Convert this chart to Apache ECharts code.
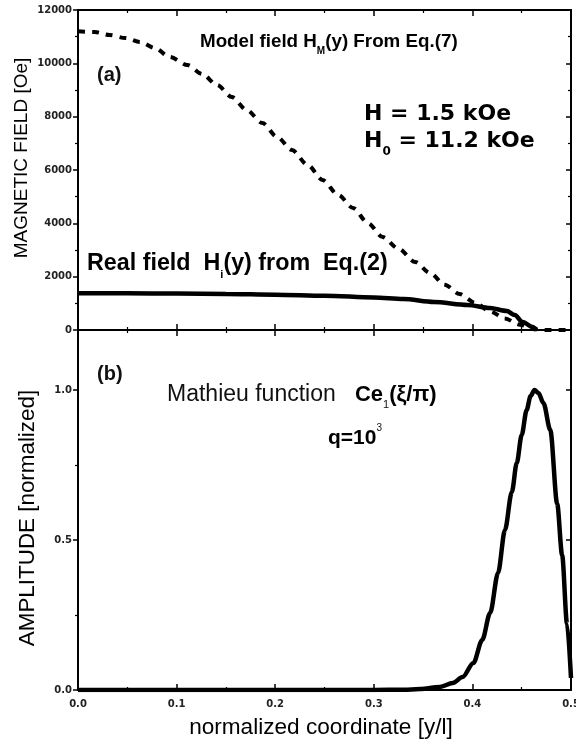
<!DOCTYPE html>
<html>
<head>
<meta charset="utf-8">
<script src="https://cdn.jsdelivr.net/npm/echarts@6/dist/echarts.min.js"></script>
<style>
html,body{margin:0;padding:0;background:#fff;overflow:hidden;}
#main{width:576px;height:746px;}
</style>
</head>
<body>
<div id="main"></div>
<script>
// ---- data ----
var xModel = [0.000,0.017,0.032,0.048,0.063,0.078,0.093,0.111,0.126,0.141,0.156,0.171,0.187,0.202,0.217,0.233,0.248,0.264,0.279,0.294,0.309,0.325,0.342,0.357,0.372,0.387,0.403,0.418,0.433,0.448,0.463,0.475,0.490,0.500];
var hModel = [11200,11175,11062,10950,10800,10575,10237,9937,9600,9187,8737,8250,7762,7237,6750,6187,5625,5062,4575,4012,3487,3050,2550,2137,1700,1350,1012,700,430,200,30,0,0,0];

var xReal = [0.00,0.05,0.10,0.15,0.20,0.25,0.30,0.33,0.361,0.395,0.418,0.435,0.443,0.451,0.461,0.465];
var hReal = [1380,1375,1365,1350,1325,1285,1220,1160,1050,940,825,710,560,300,110,0];

var xMathieu = [0.000,0.100,0.200,0.300,0.330,0.347,0.367,0.380,0.390,0.401,0.410,0.418,0.426,0.433,0.440,0.445,0.450,0.455,0.459,0.463,0.467,0.472,0.479,0.486,0.491,0.496,0.500];
var ampMathieu = [0,0,0,0,0.001,0.003,0.010,0.023,0.043,0.090,0.167,0.257,0.390,0.533,0.660,0.757,0.850,0.933,0.980,1.000,0.990,0.957,0.867,0.620,0.450,0.220,0.040];

var xTicks = [0,0.1,0.2,0.3,0.4,0.5];
var fieldTicks = [0,2000,4000,6000,8000,10000,12000];
var ampTicks = [0,0.5,1.0];
var ampMinor = [0.25,0.75];

function zip(a,b){ return a.map(function(v,i){ return [v,b[i]]; }); }

var chart = echarts.init(document.getElementById('main'), null, {renderer:'canvas'});
var lineC = '#000';
var tickFont = {fontFamily:'DejaVu Sans', fontWeight:'bold', fontSize:10, color:'#222'};
function xAx(grid, pos, labels){
  return {
    type:'value', gridIndex:grid, position:pos, min:0, max:0.5, interval:0.1,
    axisLine:{show:true, onZero:false, lineStyle:{color:lineC, width:2}},
    axisTick:{show:true, inside:true, length:6, customValues:xTicks, lineStyle:{color:lineC, width:1.5}},
    minorTick:{show:true, splitNumber:2, length:3, lineStyle:{color:lineC, width:1.2}},
    splitLine:{show:false}, minorSplitLine:{show:false},
    axisLabel: labels ? Object.assign({show:true, margin:9, customValues:xTicks, formatter:function(v){return v.toFixed(1);}}, tickFont) : {show:false}
  };
}
var option = {
  animation:false,
  backgroundColor:'#fff',
  grid:[
    {left:78, top:10, width:493, height:320, outerBoundsMode:'none', containLabel:false},
    {left:78, top:330, width:493, height:360, outerBoundsMode:'none', containLabel:false}
  ],
  xAxis:[ xAx(0,'bottom',false), xAx(0,'top',false), xAx(1,'bottom',true), xAx(1,'top',false) ],
  yAxis:[
    {type:'value', gridIndex:0, position:'left', min:0, max:12000, interval:2000,
     axisLine:{show:true, onZero:false, lineStyle:{color:lineC, width:2}},
     axisTick:{show:true, inside:false, length:5, customValues:fieldTicks, lineStyle:{color:lineC, width:1.5}},
     minorTick:{show:true, splitNumber:2, length:3, lineStyle:{color:lineC, width:1.2}},
     splitLine:{show:false},
     axisLabel:Object.assign({show:true, margin:6, customValues:fieldTicks, formatter:function(v){return String(v);}}, tickFont)},
    {type:'value', gridIndex:0, position:'right', min:0, max:12000, interval:2000,
     axisLine:{show:true, onZero:false, lineStyle:{color:lineC, width:2}},
     axisTick:{show:true, inside:true, length:5, lineStyle:{color:lineC, width:1.5}},
     minorTick:{show:true, splitNumber:2, length:3, lineStyle:{color:lineC, width:1.2}},
     splitLine:{show:false}, axisLabel:{show:false}},
    {type:'value', gridIndex:1, position:'left', min:0, max:1.2,
     axisLine:{show:true, onZero:false, lineStyle:{color:lineC, width:2}},
     axisTick:{show:true, inside:false, length:5, customValues:ampTicks, lineStyle:{color:lineC, width:1.5}},
     splitLine:{show:false},
     axisLabel:Object.assign({show:true, margin:6, customValues:ampTicks, formatter:function(v){return v.toFixed(1);}}, tickFont)},
    {type:'value', gridIndex:1, position:'left', min:0, max:1.2,
     axisLine:{show:false},
     axisTick:{show:true, inside:false, length:3, customValues:ampMinor, lineStyle:{color:lineC, width:1.2}},
     splitLine:{show:false}, axisLabel:{show:false}},
    {type:'value', gridIndex:1, position:'right', min:0, max:1.2,
     axisLine:{show:true, onZero:false, lineStyle:{color:lineC, width:2}},
     axisTick:{show:true, inside:true, length:5, customValues:ampTicks, lineStyle:{color:lineC, width:1.5}},
     splitLine:{show:false}, axisLabel:{show:false}}
  ],
  series:[
    {type:'line', xAxisIndex:0, yAxisIndex:0, data:zip(xModel,hModel), showSymbol:false, smooth:0.3, smoothMonotone:'x',
     lineStyle:{color:'#000', width:4, type:[7,7]}, z:3},
    {type:'line', xAxisIndex:0, yAxisIndex:0, data:zip(xReal,hReal), showSymbol:false, smooth:0.3, smoothMonotone:'x',
     lineStyle:{color:'#000', width:4.5}, z:4},
    {type:'line', xAxisIndex:2, yAxisIndex:2, data:zip(xMathieu,ampMathieu), showSymbol:false, smooth:0.3, smoothMonotone:'x',
     lineStyle:{color:'#000', width:4.5}, z:4}
  ],
  graphic:[
    {type:'text', x:22, y:158, rotation:Math.PI/2,
     style:{text:'MAGNETIC FIELD [Oe]', fontFamily:'Liberation Sans', fontSize:19, fill:'#000', align:'center', verticalAlign:'middle'}},
    {type:'text', x:28, y:518, rotation:Math.PI/2,
     style:{text:'AMPLITUDE [normalized]', fontFamily:'Liberation Sans', fontSize:22.4, fill:'#000', align:'center', verticalAlign:'middle'}},
    {type:'text', x:321, y:728,
     style:{text:'normalized coordinate [y/l]', fontFamily:'Liberation Sans', fontSize:22.6, fill:'#000', align:'center', verticalAlign:'middle'}},
    {type:'text', x:97, y:75,
     style:{text:'(a)', fontFamily:'Liberation Sans', fontWeight:'bold', fontSize:20, fill:'#111', align:'left', verticalAlign:'middle'}},
    {type:'text', x:97, y:374,
     style:{text:'(b)', fontFamily:'Liberation Sans', fontWeight:'bold', fontSize:20, fill:'#111', align:'left', verticalAlign:'middle'}},
    {type:'text', x:200, y:42,
     style:{text:'{m|Model field H}{s|M}{m|(y) From Eq.(7)}', align:'left', verticalAlign:'middle',
       rich:{m:{fontFamily:'Liberation Sans', fontWeight:'bold', fontSize:18.8, fill:'#000', lineHeight:28},
             s:{fontFamily:'Liberation Sans', fontWeight:'bold', fontSize:10, fill:'#000', lineHeight:28, verticalAlign:'bottom'}}}},
    {type:'text', x:364, y:114,
     style:{text:'{m|H = 1.5 kOe}', align:'left', verticalAlign:'middle',
       rich:{m:{fontFamily:'DejaVu Sans', fontWeight:'bold', fontSize:22, fill:'#000', lineHeight:30}}}},
    {type:'text', x:364, y:141,
     style:{text:'{m|H}{s|0}{m| = 11.2 kOe}', align:'left', verticalAlign:'middle',
       rich:{m:{fontFamily:'DejaVu Sans', fontWeight:'bold', fontSize:22, fill:'#000', lineHeight:34},
             s:{fontFamily:'DejaVu Sans', fontWeight:'bold', fontSize:12, fill:'#000', lineHeight:34, verticalAlign:'bottom'}}}},
    {type:'text', x:87, y:264,
     style:{text:'{m|Real field  H}{s|i}{m|(y) from  Eq.(2)}', align:'left', verticalAlign:'middle',
       rich:{m:{fontFamily:'Liberation Sans', fontWeight:'bold', fontSize:23.3, fill:'#000', lineHeight:32},
             s:{fontFamily:'Liberation Sans', fontWeight:'bold', fontSize:11, fill:'#000', lineHeight:32, verticalAlign:'bottom'}}}},
    {type:'text', x:167, y:395,
     style:{text:'{r|Mathieu function   }{m|Ce}{s|1}{m|(ξ/π)}', align:'left', verticalAlign:'middle',
       rich:{r:{fontFamily:'Liberation Sans', fontSize:23, fill:'#111', lineHeight:30},
             m:{fontFamily:'Liberation Sans', fontWeight:'bold', fontSize:22, fill:'#000', lineHeight:30},
             s:{fontFamily:'Liberation Sans', fontSize:11, fill:'#111', lineHeight:30, verticalAlign:'bottom'}}}},
    {type:'text', x:328, y:438,
     style:{text:'{m|q=10}{s|3}', align:'left', verticalAlign:'middle',
       rich:{m:{fontFamily:'Liberation Sans', fontWeight:'bold', fontSize:21, fill:'#000', lineHeight:30},
             s:{fontFamily:'Liberation Sans', fontSize:10, fill:'#111', lineHeight:30, verticalAlign:'top'}}}}
  ]
};
chart.setOption(option);
</script>
</body>
</html>
